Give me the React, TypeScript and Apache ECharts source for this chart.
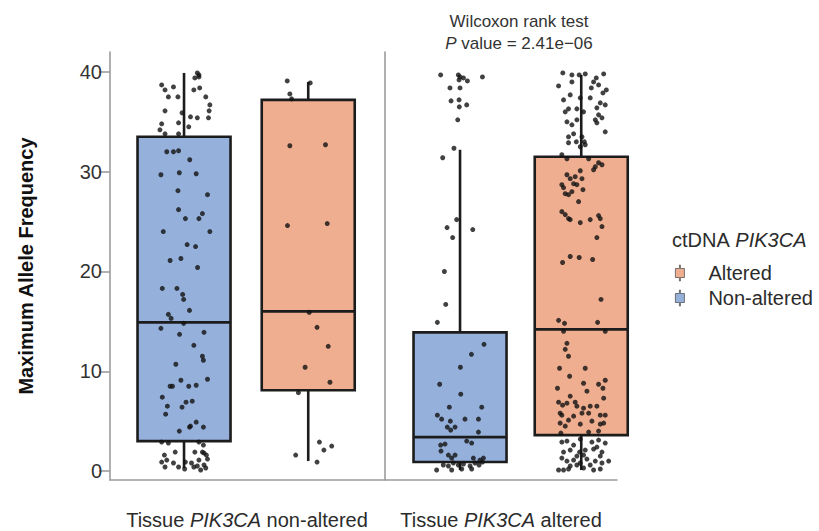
import React, { useEffect, useRef } from 'react';
import * as echarts from 'echarts';

// ---------- data ----------
const Y_TICKS = [0, 10, 20, 30, 40];
const PANEL_LABELS = ['Tissue PIK3CA non-altered', 'Tissue PIK3CA altered'];
const ITALIC_WORD = 'PIK3CA';
const LEGEND_TITLE = 'ctDNA PIK3CA';
const GROUPS = ['Altered', 'Non-altered'];
const TEST_NAME = 'Wilcoxon rank test';
const P_VALUE_TEXT = 'value = 2.41e\u221206';

// [lower whisker, Q1, median, Q3, upper whisker]
const BOX_TNA_NONALT = [0.3, 3.0, 14.9, 33.5, 39.9];
const BOX_TNA_ALT = [1.0, 8.1, 16.0, 37.2, 39.0];
const BOX_TA_NONALT = [0.1, 0.9, 3.4, 13.9, 32.2];
const BOX_TA_ALT = [0.1, 3.6, 14.2, 31.5, 39.7];

// jittered points: [horizontal jitter, value]
const PTS_TNA_NONALT = [
  [0.107, 39.9], [0.12, 39.7], [0.087, 39.4], [0.12, 39.5],
  [-0.18, 38.7], [-0.085, 38.5], [-0.153, 38.2], [-0.126, 37.5], [-0.049, 37.5], [0.079, 38.2], [0.126, 38.4], [0.175, 37.5],
  [-0.153, 36.1], [0.208, 36.7], [0.202, 36.1], [-0.016, 35.9],
  [0.052, 35.5], [0.107, 35.4], [0.197, 35.4],
  [-0.18, 34.8], [-0.044, 34.9], [0.038, 34.5], [-0.194, 34.2], [-0.153, 33.8], [-0.044, 33.8],
  [-0.139, 32.0], [-0.085, 32.0], [-0.044, 32.1], [0.046, 31.2], [-0.186, 29.7], [-0.038, 29.9], [0.098, 29.8],
  [-0.049, 28.1], [0.189, 27.7], [-0.044, 26.2], [0.011, 25.3], [0.12, 25.3], [0.148, 25.8], [-0.167, 24.0],
  [0.208, 24.0], [0.025, 22.7], [0.093, 22.5], [-0.112, 21.1], [-0.025, 21.3], [0.109, 20.4], [-0.175, 18.3],
  [-0.057, 18.3], [-0.011, 17.7], [-0.003, 17.2], [0.044, 16.1], [-0.126, 15.7], [-0.104, 15.3], [-0.003, 14.8],
  [-0.186, 14.3], [-0.036, 13.7], [0.161, 13.9], [0.079, 12.6], [0.148, 11.5], [0.156, 11.1], [-0.066, 10.7],
  [0.189, 9.2], [-0.025, 9.1], [-0.112, 8.5], [-0.093, 8.5], [0.038, 8.5], [0.098, 8.6], [-0.175, 7.4],
  [-0.134, 6.5], [-0.148, 5.7], [-0.016, 6.4], [0.016, 6.9], [0.066, 7.0], [-0.038, 4.0], [0.052, 4.5],
  [0.098, 4.9], [0.156, 4.4], [0.044, 4.4],
  [-0.18, 2.9], [-0.126, 2.8], [0.12, 2.9], [0.156, 2.6], [-0.158, 1.6], [-0.071, 1.9], [0.087, 1.9],
  [0.148, 1.9], [0.161, 1.8], [0.18, 1.6], [-0.18, 0.9], [-0.139, 1.1], [-0.085, 0.8], [0.011, 0.9],
  [0.06, 0.8], [0.12, 1.1], [0.161, 0.6], [0.189, 1.2], [0.107, 0.5], [-0.153, 0.4], [-0.044, 0.4],
  [0.005, 0.2], [0.079, 0.4], [0.134, 0.1], [0.175, 0.3],
];
const PTS_TNA_ALT = [
  [-0.169, 39.1], [-0.148, 37.8], [-0.134, 37.3], [0.016, 38.9], [-0.148, 32.6], [0.139, 32.7],
  [-0.167, 24.6], [0.153, 24.8], [0.008, 15.9], [0.071, 14.4], [0.161, 12.5], [-0.025, 10.4],
  [0.175, 8.9], [-0.079, 7.85], [0.09, 2.9], [0.189, 2.5], [0.126, 2.1], [-0.101, 1.6], [0.071, 0.9],
];
const PTS_TA_NONALT = [
  [-0.16, 39.7], [-0.014, 39.7], [0.0, 39.5], [-0.008, 39.2], [0.028, 39.4], [0.061, 39.1], [0.185, 39.5],
  [-0.083, 38.4], [0.0, 38.4], [-0.074, 37.1], [-0.008, 37.2], [-0.006, 36.5], [0.055, 36.7], [-0.019, 35.2],
  [-0.05, 32.35], [-0.143, 31.4], [-0.028, 25.2], [-0.107, 24.4], [0.105, 24.2], [-0.061, 23.4],
  [-0.129, 20.0], [-0.118, 16.7], [-0.187, 14.9],
  [0.198, 12.7], [0.094, 11.7], [0.003, 10.4], [-0.168, 8.7], [0.006, 7.7], [-0.088, 6.4], [0.179, 6.4],
  [-0.187, 5.6], [-0.152, 5.2], [-0.08, 5.0], [0.041, 5.2], [0.152, 5.2], [-0.105, 4.4], [-0.077, 4.1],
  [-0.041, 4.4], [0.152, 3.9], [0.055, 3.0], [0.096, 2.8], [-0.16, 2.6], [-0.124, 2.7], [-0.157, 2.0],
  [-0.096, 1.6], [-0.041, 1.6], [-0.069, 1.3], [0.11, 1.3], [0.165, 1.1], [0.193, 1.3],
  [-0.193, 0.1], [-0.138, 0.6], [-0.096, 0.5], [-0.055, 0.8], [-0.014, 0.6], [0.028, 0.7], [0.083, 0.5],
  [0.124, 0.8], [0.157, 0.6], [0.185, 0.9], [-0.069, 0.1], [0.014, 0.2], [0.096, 0.2],
];
const PTS_TA_ALT = [
  [-0.152, 39.9], [-0.077, 39.7], [-0.017, 39.7], [0.033, 39.8], [0.124, 39.4], [0.185, 39.8],
  [-0.187, 38.6], [-0.077, 39.0], [0.102, 39.0], [0.143, 38.7], [0.083, 38.4], [0.207, 38.2], [0.179, 37.9],
  [-0.146, 37.2], [-0.091, 37.7], [-0.008, 37.4], [0.074, 37.4], [0.157, 36.9], [0.129, 36.4], [0.198, 36.7],
  [-0.132, 36.0], [-0.105, 36.3], [-0.036, 36.3], [0.019, 36.0], [0.143, 35.7], [0.171, 35.4], [0.116, 35.2],
  [-0.118, 35.0], [-0.077, 34.7], [-0.036, 35.2], [0.129, 34.9], [0.198, 34.0],
  [-0.105, 33.5], [-0.063, 33.8], [0.006, 33.5], [0.025, 33.0], [-0.105, 32.9], [-0.041, 33.0], [-0.008, 32.5], [0.033, 32.7],
  [-0.16, 31.7], [-0.118, 31.3], [0.061, 31.3], [0.143, 30.9], [0.171, 30.7], [0.116, 30.5], [0.102, 30.2],
  [-0.008, 30.1], [-0.118, 29.7], [-0.05, 29.5], [0.006, 29.3], [-0.091, 29.3], [-0.063, 28.8], [-0.16, 28.7],
  [-0.036, 28.7], [-0.146, 28.4], [0.014, 28.2], [-0.077, 28.0], [-0.132, 27.8], [-0.105, 27.7], [-0.022, 27.0],
  [-0.16, 26.0], [-0.132, 25.7], [0.143, 25.6], [-0.105, 25.3], [0.157, 25.3], [-0.091, 25.2], [0.074, 25.2],
  [-0.008, 24.9], [0.171, 24.5], [0.129, 23.4],
  [-0.154, 20.9], [-0.091, 21.5], [-0.017, 21.4], [0.094, 21.2], [0.163, 17.2],
  [-0.187, 15.1], [-0.138, 14.8], [0.135, 14.9], [0.198, 14.0],
  [-0.146, 14.0], [-0.118, 12.8], [-0.132, 12.2], [-0.105, 11.5],
  [-0.179, 10.3], [0.033, 10.3], [-0.096, 9.5], [0.019, 8.8], [0.143, 8.7], [0.198, 9.1], [-0.196, 8.3],
  [0.047, 8.0], [0.179, 8.3], [-0.091, 7.5], [0.185, 7.3],
  [-0.187, 6.9], [-0.154, 6.6], [-0.118, 6.8], [-0.05, 6.9], [-0.036, 6.5], [0.019, 6.3], [0.074, 6.5],
  [0.129, 6.5], [-0.174, 5.8], [-0.16, 5.6], [-0.063, 5.5], [0.006, 5.8], [0.061, 5.8], [0.157, 5.6],
  [0.198, 5.6], [0.088, 5.0], [-0.174, 4.8], [-0.132, 4.5], [-0.008, 4.7], [-0.105, 5.1], [0.157, 4.7],
  [0.185, 4.8], [0.143, 4.0], [-0.168, 3.8], [0.061, 3.9],
  [-0.16, 2.9], [-0.118, 3.0], [-0.008, 3.2], [0.088, 2.9], [0.143, 3.1], [0.198, 2.8], [-0.063, 2.6], [0.129, 2.4],
  [-0.146, 1.9], [-0.091, 2.1], [-0.014, 1.9], [0.033, 2.1], [0.102, 2.2], [0.171, 1.9], [-0.036, 1.5],
  [0.157, 1.5], [0.019, 1.6], [-0.16, 1.3],
  [-0.118, 1.0], [-0.063, 1.1], [-0.008, 0.8], [0.047, 1.2], [0.116, 1.0], [0.226, 1.0], [-0.091, 0.5],
  [-0.036, 0.6], [0.074, 0.6], [0.171, 0.8],
  [-0.187, 0.1], [-0.105, 0.2], [0.019, 0.3], [0.102, 0.1], [0.157, 0.2], [-0.146, 0.1],
];

// ---------- styles ----------
const BLUE = '#95b1db';
const ORANGE = '#eeae8f';
const INK = '#1c1c1c';
const AXIS_GRAY = '#9c9c9c';
const TEXT = '#2b2b2b';
const FONT = '"Liberation Sans", Arial, Helvetica, sans-serif';
const BOX_W = 93;
const LEGEND_ICON = 'path://M4,0H5V3.5H9V12.5H5V16H4V12.5H0V3.5H4Z';

function italicRich(text: string, word: string) {
  const parts = text.split(word);
  return parts.map((p) => (p ? `{r|${p}}` : '')).join(`{i|${word}}`);
}

function boxRenderer(color: string) {
  return (_params: any, api: any) => {
    const x = api.value(0);
    const lo = api.coord([x, api.value(1)]);
    const q1 = api.coord([x, api.value(2)]);
    const md = api.coord([x, api.value(3)]);
    const q3 = api.coord([x, api.value(4)]);
    const hi = api.coord([x, api.value(5)]);
    const h = BOX_W / 2;
    const lineStyle = { stroke: INK, lineWidth: 2.6 };
    return {
      type: 'group',
      children: [
        { type: 'line', shape: { x1: hi[0], y1: hi[1], x2: q3[0], y2: q3[1] }, style: lineStyle },
        { type: 'line', shape: { x1: lo[0], y1: lo[1], x2: q1[0], y2: q1[1] }, style: lineStyle },
        {
          type: 'rect',
          shape: { x: q3[0] - h, y: q3[1], width: BOX_W, height: q1[1] - q3[1] },
          style: { fill: color, stroke: INK, lineWidth: 2.6 },
        },
        { type: 'line', shape: { x1: md[0] - h, y1: md[1], x2: md[0] + h, y2: md[1] }, style: lineStyle },
      ],
    };
  };
}

const richText = {
  r: { fontFamily: FONT, fontSize: 20, color: TEXT, fontWeight: 'normal' },
  i: { fontFamily: FONT, fontSize: 20, color: TEXT, fontStyle: 'italic', fontWeight: 'normal' },
};

export default function App() {
  const ref = useRef<HTMLDivElement>(null);
  useEffect(() => {
    if (!ref.current) return;
    const chart = echarts.init(ref.current, undefined, { renderer: 'svg' });

    const xRanges = [
      { min: -0.596, max: 1.61 },
      { min: -0.619, max: 1.295 },
    ];

    const yAxisBase = (gridIndex: number, showLabels: boolean) => ({
      type: 'value',
      gridIndex,
      min: -0.9,
      max: 42,
      splitLine: { show: false },
      axisLine: { show: true, onZero: false, lineStyle: { color: AXIS_GRAY, width: 1.6 } },
      axisTick: {
        show: showLabels,
        customValues: Y_TICKS,
        length: 11,
        lineStyle: { color: AXIS_GRAY, width: 1.6 },
      },
      axisLabel: {
        show: showLabels,
        customValues: Y_TICKS,
        fontFamily: FONT,
        fontSize: 20,
        color: '#333',
        margin: 8,
      },
    });

    const makeBox = (name: string, color: string, axis: number, pos: number, stats: number[]) => ({
      type: 'custom',
      name,
      xAxisIndex: axis,
      yAxisIndex: axis,
      renderItem: boxRenderer(color),
      itemStyle: { color },
      encode: { x: 0, y: [1, 2, 3, 4, 5] },
      data: [[pos, ...stats]],
      z: 2,
      silent: true,
    });

    const makePts = (axis: number, pos: number, pts: number[][]) => ({
      type: 'scatter',
      name: 'points',
      xAxisIndex: axis,
      yAxisIndex: axis,
      data: pts.map(([j, v]) => [pos + j, v]),
      symbolSize: 5,
      itemStyle: { color: '#111' },
      clip: false,
      silent: true,
      z: 5,
    });

    const titleRich = {
      r: { fontFamily: FONT, fontSize: 17, color: '#333', lineHeight: 22, fontWeight: 'normal' },
      i: { fontFamily: FONT, fontSize: 17, color: '#333', fontStyle: 'italic', lineHeight: 22, fontWeight: 'normal' },
    };

    const option: any = {
      animation: false,
      backgroundColor: '#ffffff',
      title: [
        {
          text: `{r|${TEST_NAME}}\n{i|P}{r| ${P_VALUE_TEXT}}`,
          left: 519,
          top: 10,
          padding: 0,
          textAlign: 'center',
          textStyle: { fontWeight: 'normal', rich: titleRich },
        },
        {
          text: italicRich(LEGEND_TITLE, ITALIC_WORD),
          left: 672,
          top: 230,
          padding: 0,
          textStyle: { fontWeight: 'normal', rich: richText },
        },
      ],
      legend: {
        orient: 'vertical',
        left: 675,
        top: 262,
        padding: 0,
        itemWidth: 9,
        itemHeight: 16,
        itemGap: 3,
        selectedMode: false,
        textStyle: { fontFamily: FONT, fontSize: 20, color: TEXT, lineHeight: 22, padding: [0, 0, 0, 19] },
        data: [
          { name: GROUPS[0], icon: LEGEND_ICON, itemStyle: { color: ORANGE, borderColor: '#555', borderWidth: 0.8 } },
          { name: GROUPS[1], icon: LEGEND_ICON, itemStyle: { color: BLUE, borderColor: '#555', borderWidth: 0.8 } },
        ],
      },
      grid: [
        { left: 110, top: 52, width: 274, bottom: 51, containLabel: false, outerBoundsMode: 'none' },
        { left: 385, top: 52, width: 232, bottom: 51, containLabel: false, outerBoundsMode: 'none' },
      ],
      xAxis: [0, 1].map((i) => ({
        type: 'value',
        gridIndex: i,
        min: xRanges[i].min,
        max: xRanges[i].max,
        splitLine: { show: false },
        axisTick: { show: false },
        axisLabel: { show: false },
        axisLine: { show: true, onZero: false, lineStyle: { color: AXIS_GRAY, width: 1.6 } },
        name: italicRich(PANEL_LABELS[i], ITALIC_WORD),
        nameLocation: 'middle',
        nameGap: 30,
        nameTextStyle: { rich: richText },
      })),
      yAxis: [
        {
          ...yAxisBase(0, true),
          name: 'Maximum Allele Frequency',
          nameLocation: 'middle',
          nameGap: 74,
          nameTextStyle: { fontFamily: FONT, fontSize: 20, fontWeight: 'bold', color: '#111' },
        },
        yAxisBase(1, false),
      ],
      series: [
        makeBox(GROUPS[1], BLUE, 0, 0, BOX_TNA_NONALT),
        makeBox(GROUPS[0], ORANGE, 0, 1, BOX_TNA_ALT),
        makeBox(GROUPS[1], BLUE, 1, 0, BOX_TA_NONALT),
        makeBox(GROUPS[0], ORANGE, 1, 1, BOX_TA_ALT),
        makePts(0, 0, PTS_TNA_NONALT),
        makePts(0, 1, PTS_TNA_ALT),
        makePts(1, 0, PTS_TA_NONALT),
        makePts(1, 1, PTS_TA_ALT),
      ],
    };

    chart.setOption(option);
    return () => chart.dispose();
  }, []);

  return (
    <div
      ref={ref}
      style={{ position: 'fixed', left: 0, top: 0, width: 819, height: 531, background: '#fff' }}
    />
  );
}
